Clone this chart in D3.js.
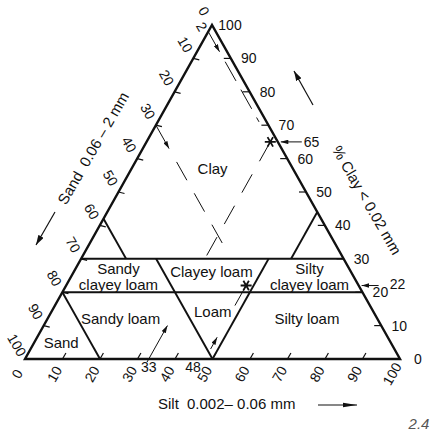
<!DOCTYPE html>
<html><head><meta charset="utf-8">
<script src="https://cdn.jsdelivr.net/npm/d3@7"></script>
<style>
html,body{margin:0;padding:0;background:#fff;}
svg{display:block;}
text{font-family:"Liberation Sans Narrow","Arial Narrow","Liberation Sans",sans-serif;fill:#111;}
</style></head><body>
<svg id="c" width="433" height="434"></svg>
<script>
// ---- data ----
const tickValues = [0,10,20,30,40,50,60,70,80,90,100];
const tickLabels = tickValues.map(String);

// boundary segments, as composition endpoints (clay %, silt %)
const boundaryClayFrom = [30, 20, 42, 44, 20, 30, 30];
const boundarySiltFrom = [0, 0, 0, 56, 0, 20, 50];
const boundaryClayTo   = [30, 20, 30, 30, 0, 0, 0];
const boundarySiltTo   = [70, 80, 12, 56, 20, 50, 50];

// texture classes, label anchor as composition
const regionNames = ["Clay", "Sandy|clayey loam", "Clayey loam", "Silty|clayey loam", "Sandy loam", "Loam", "Silty loam", "Sand"];
const regionClay  = [57, 24.7, 26.3, 24.6, 12, 14.2, 12, 4.9];
const regionSilt  = [21.6, 12.6, 36.6, 63.6, 19.5, 43, 69.2, 7.2];

// worked examples
const sampleClay = [65, 22];
const sampleSilt = [33, 48];
const sampleSand = [2, 30];

// ---- scales ----
const siltX = d3.scaleLinear().domain([0,100]).range([25,400]);
const clayY = d3.scaleLinear().domain([0,100]).range([359,25]);
const clayShift = d3.scaleLinear().domain([0,100]).range([0,187]);
const P = (clay, silt) => [siltX(silt) + clayShift(clay), clayY(clay)];

const svg = d3.select("#c");
const defs = svg.append("defs");
defs.append("marker").attr("id","ah").attr("viewBox","0 0 10 6")
  .attr("refX",10).attr("refY",3).attr("markerWidth",10).attr("markerHeight",6)
  .attr("markerUnits","userSpaceOnUse").attr("orient","auto")
  .append("path").attr("d","M0,0 L10,3 L0,6 Z").attr("fill","#111");
defs.append("marker").attr("id","ahs").attr("viewBox","0 0 10 6")
  .attr("refX",10).attr("refY",3).attr("markerWidth",8).attr("markerHeight",4.5)
  .attr("markerUnits","userSpaceOnUse").attr("orient","auto")
  .append("path").attr("d","M0,0 L10,3 L0,6 Z").attr("fill","#111");
defs.append("marker").attr("id","ahl").attr("viewBox","0 0 14 6")
  .attr("refX",14).attr("refY",3).attr("markerWidth",16).attr("markerHeight",6)
  .attr("markerUnits","userSpaceOnUse").attr("orient","auto")
  .append("path").attr("d","M0,0.8 L14,3 L0,5.2 Z").attr("fill","#111");

const line = d3.line();

// ---- boundaries ----
const bnd = boundaryClayFrom.map((c,i) => [P(c, boundarySiltFrom[i]), P(boundaryClayTo[i], boundarySiltTo[i])]);
svg.append("g").selectAll("path").data(bnd).join("path")
  .attr("d", d => line(d)).attr("stroke","#111").attr("stroke-width",1.9).attr("fill","none");

// ---- triangle ----
svg.append("path").attr("d", line([P(0,0), P(0,100), P(100,0)]) + "Z")
  .attr("fill","none").attr("stroke","#111").attr("stroke-width",2.4).attr("stroke-linejoin","miter");

// ---- ticks ----
const inner = tickValues.filter(v => v > 0 && v < 100);
const tg = svg.append("g").attr("stroke","#111").attr("stroke-width",1.2);
// sand (left side): sand v -> clay 100-v, silt 0
tg.selectAll(".ts").data(inner).join("path")
  .attr("d", v => { const p = P(100-v, 0); return line([p, [p[0]+6, p[1]+1.5]]); });
// clay (right side)
tg.selectAll(".tc").data(inner).join("path")
  .attr("d", v => { const p = P(v, 100-v); return line([p, [p[0]-7, p[1]]]); });
// silt (bottom)
tg.selectAll(".tb").data(inner).join("path")
  .attr("d", v => { const p = P(0, v); return line([p, [p[0]+3.4, p[1]-6]]); });

// ---- tick labels ----
const lg = svg.append("g").attr("font-size",14);
lg.selectAll(".ls").data(tickValues).join("text")
  .attr("text-anchor","middle").attr("dominant-baseline","central")
  .attr("transform", (v) => { const p = P(100-v, 0); return `translate(${p[0]-8},${p[1]-14}) rotate(60)`; })
  .text((v,i) => tickLabels[i]);
lg.selectAll(".lc").data(tickValues).join("text")
  .attr("text-anchor","middle").attr("dominant-baseline","central")
  .attr("x", v => P(v,100-v)[0] + 18).attr("y", v => P(v,100-v)[1])
  .text((v,i) => tickLabels[i]);
lg.selectAll(".lb").data(tickValues).join("text")
  .attr("text-anchor","middle").attr("dominant-baseline","central")
  .attr("transform", (v) => { const p = P(0, v); return `translate(${p[0]-8},${p[1]+15}) rotate(-60)`; })
  .text((v,i) => tickLabels[i]);

// ---- region labels ----
const rg = svg.append("g").attr("font-size",15);
regionNames.forEach((n,i) => {
  const p = P(regionClay[i], regionSilt[i]);
  const parts = n.split("|");
  if (parts.length === 1) {
    rg.append("text").attr("text-anchor","middle").attr("dominant-baseline","central")
      .attr("x",p[0]).attr("y",p[1]).text(n);
  } else {
    parts.forEach((s,k) => {
      rg.append("text").attr("text-anchor","middle").attr("dominant-baseline","central")
        .attr("x",p[0]).attr("y",p[1] + (k === 0 ? -8 : 7.5)).text(s);
    });
  }
});

// ---- worked examples (guides) ----
const gg = svg.append("g").attr("stroke","#111").attr("fill","none").attr("stroke-width",1);
sampleClay.forEach((c,i) => {
  const s = sampleSilt[i], sd = sampleSand[i];
  // clay guide from right side
  const e = P(c, 100-c);
  gg.append("path").attr("d", line([[e[0]+24-i*4, e[1]], [e[0]+3, e[1]]])).attr("marker-end","url(#ahs)");
  // sand guide from left side
  const a0 = P(100-sd, 0), a1 = P(100-sd-6-i, 6+i);
  gg.append("path").attr("d", line([a0, a1])).attr("marker-end","url(#ahs)");
  // silt guide from the base
  const b0 = P(i===0 ? -1 : 3, s), b1 = P(i===0 ? 10 : 6.5, s);
  gg.append("path").attr("d", line([b0, b1])).attr("marker-end","url(#ahs)");
});
// dashed guide continuations
gg.append("path").attr("d", line([P(89,9), P(71,27)])).attr("stroke-dasharray","22,10");
gg.append("path").attr("d", line([P(31,33), P(64,33)])).attr("stroke-dasharray","21,15");
gg.append("path").attr("d", line([P(59,11), P(31,39)])).attr("stroke-dasharray","21,15");
gg.append("path").attr("d", line([P(16,48), P(22,48)]));

// sample stars
svg.append("g").selectAll("path").data(sampleClay).join("path")
  .attr("transform", (c,i) => { const p = P(c, sampleSilt[i]); return `translate(${p[0]},${p[1]}) rotate(90)`; })
  .attr("d", d3.symbol(d3.symbolAsterisk, 85)())
  .attr("stroke","#111").attr("stroke-width",1.8).attr("fill","none");

// guide labels
const gl = svg.append("g").attr("font-size",14);
{
  const p = P(100-sampleSand[0], 0);
  gl.append("text").attr("text-anchor","middle").attr("dominant-baseline","central")
    .attr("transform", `translate(${p[0]-6.5},${p[1]-5}) rotate(60)`).text(String(sampleSand[0]));
  const e = P(sampleClay[0], 100-sampleClay[0]);
  gl.append("text").attr("dominant-baseline","central").attr("x", e[0]+26).attr("y", e[1]).text(String(sampleClay[0]));
  const e2 = P(sampleClay[1], 100-sampleClay[1]);
  gl.append("text").attr("dominant-baseline","central").attr("x", e2[0]+31).attr("y", e2[1]-2).text(String(sampleClay[1]));
  const b = P(0, sampleSilt[0]);
  gl.append("text").attr("text-anchor","middle").attr("dominant-baseline","central").attr("x", b[0]).attr("y", b[1]+8).text(String(sampleSilt[0]));
  const b2 = P(0, sampleSilt[1]);
  gl.append("text").attr("text-anchor","middle").attr("dominant-baseline","central").attr("x", b2[0]-12).attr("y", b2[1]+8).text(String(sampleSilt[1]));
}

// ---- axis titles ----
const at = svg.append("g").attr("font-size",15);
at.append("text").attr("text-anchor","middle").attr("dominant-baseline","central")
  .attr("transform","translate(93,148) rotate(-60)").attr("xml:space","preserve").text("Sand  0.06 – 2 mm");
at.append("text").attr("text-anchor","middle").attr("dominant-baseline","central")
  .attr("transform","translate(367,200) rotate(60)").attr("xml:space","preserve").text("% Clay < 0.02 mm");
at.append("text").attr("x",158).attr("y",409).text("Silt");
at.append("text").attr("x",187).attr("y",409).text("0.002– 0.06 mm");

const ag = svg.append("g").attr("stroke","#111").attr("stroke-width",1.2);
ag.append("path").attr("d", line([[55,212],[36,245]])).attr("marker-end","url(#ah)");
ag.append("path").attr("d", line([[313,105],[294,71]])).attr("marker-end","url(#ah)");
ag.append("path").attr("d", line([[318,405],[357,405]])).attr("marker-end","url(#ahl)");

svg.append("text").attr("x",419).attr("y",429).attr("text-anchor","middle")
  .attr("font-size",15).attr("font-style","italic").style("fill","#555").text("2.4");
</script>
</body></html>
